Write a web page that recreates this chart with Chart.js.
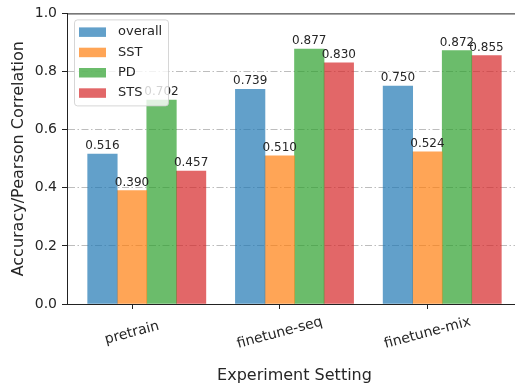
<!DOCTYPE html>
<html>
<head>
<meta charset="utf-8">
<script src="https://cdn.jsdelivr.net/npm/chart.js@4/dist/chart.umd.min.js"></script>
<style>
  html, body { margin: 0; padding: 0; overflow: hidden; background: #fff; }
  #wrap { position: relative; width: 515px; height: 387px; overflow: hidden; }
  canvas { position: absolute; left: 0; top: 0; }
</style>
</head>
<body>
<div id="wrap"><canvas id="c" width="530" height="387"></canvas></div>
<script>
// Experiment settings (x categories) and the scores per task
const settings = ['pretrain', 'finetune-seq', 'finetune-mix'];
const seriesNames = ['overall', 'SST', 'PD', 'STS'];
const overall = [0.516, 0.739, 0.750];
const sst = [0.390, 0.510, 0.524];
const pd = [0.702, 0.877, 0.872];
const sts = [0.457, 0.830, 0.855];
const yTicks = [0.0, 0.2, 0.4, 0.6, 0.8, 1.0];

const seriesValues = [overall, sst, pd, sts];
const seriesColors = [
  'rgba(31,119,180,0.7)',
  'rgba(255,127,14,0.7)',
  'rgba(44,160,44,0.7)',
  'rgba(214,39,40,0.7)'
];

const FONT = "'DejaVu Sans', sans-serif";
const TEXT = '#262626';
const BAR_W = 0.2;          // bar width in category units
const ROT = 15 * Math.PI / 180;

// bars sit at category + (series - 1) * width, like an offset grouped plot
const datasets = seriesNames.map((name, s) => ({
  label: name,
  data: seriesValues[s].map((v, i) => ({ x: i + (s - 1) * BAR_W, y: v })),
  backgroundColor: seriesColors[s],
  borderWidth: 0,
  grouped: false,
  barPercentage: 1,
  categoryPercentage: 1
}));

// x-range with 5% margins around the outermost bar edges
const xLo = (0 - 1) * BAR_W - BAR_W / 2;
const xHi = (settings.length - 1) + (seriesNames.length - 2) * BAR_W + BAR_W / 2;
const xPad = (xHi - xLo) * 0.05;

const decorations = {
  id: 'decorations',
  afterDatasetsDraw(chart) {
    const ctx = chart.ctx;
    const area = chart.chartArea;
    // value labels above every bar
    ctx.save();
    ctx.font = '12px ' + FONT;
    ctx.fillStyle = TEXT;
    ctx.textAlign = 'center';
    ctx.textBaseline = 'bottom';
    chart.data.datasets.forEach((ds, di) => {
      const meta = chart.getDatasetMeta(di);
      meta.data.forEach((el, i) => {
        ctx.fillText(ds.data[i].y.toFixed(3), el.x, el.y - 2);
      });
    });
    ctx.restore();

    // top and right spines
    ctx.save();
    ctx.strokeStyle = '#222';
    ctx.lineWidth = 1;
    ctx.beginPath();
    ctx.moveTo(area.left, area.top + 0.5);
    ctx.lineTo(area.right, area.top + 0.5);
    ctx.moveTo(area.right - 0.5, area.top);
    ctx.lineTo(area.right - 0.5, area.bottom);
    ctx.stroke();
    ctx.restore();

    // rotated category labels centred under their ticks
    const xs = chart.scales.x;
    ctx.save();
    ctx.font = '14px ' + FONT;
    ctx.fillStyle = TEXT;
    ctx.textAlign = 'center';
    ctx.textBaseline = 'middle';
    settings.forEach((name, i) => {
      const px = xs.getPixelForValue(i);
      ctx.save();
      ctx.translate(px, area.bottom + 29);
      ctx.rotate(-ROT);
      ctx.fillText(name, 0, 0);
      ctx.restore();
    });
    ctx.restore();
  },
  afterDraw(chart) {
    // legend box in the upper-left corner of the plot
    const ctx = chart.ctx;
    const area = chart.chartArea;
    const x0 = area.left + 7, y0 = area.top + 6, w = 94, h = 86;
    ctx.save();
    ctx.beginPath();
    if (ctx.roundRect) ctx.roundRect(x0 + 0.5, y0 + 0.5, w, h, 3);
    else ctx.rect(x0 + 0.5, y0 + 0.5, w, h);
    ctx.fillStyle = 'rgba(255,255,255,0.8)';
    ctx.fill();
    ctx.strokeStyle = 'rgba(204,204,204,0.8)';
    ctx.lineWidth = 1;
    ctx.stroke();
    ctx.font = '13px ' + FONT;
    ctx.textBaseline = 'middle';
    ctx.textAlign = 'left';
    seriesNames.forEach((name, s) => {
      const cy = y0 + 12.5 + s * 20.3;
      ctx.fillStyle = seriesColors[s];
      ctx.fillRect(x0 + 5, cy - 4.5, 27, 9.5);
      ctx.fillStyle = TEXT;
      ctx.fillText(name, x0 + 44, cy);
    });
    ctx.restore();
  }
};

new Chart(document.getElementById('c'), {
  type: 'bar',
  data: { datasets },
  options: {
    responsive: false,
    animation: false,
    layout: { padding: { top: 9, right: 8, left: 0, bottom: 0 } },
    plugins: { legend: { display: false }, tooltip: { enabled: false } },
    scales: {
      x: {
        type: 'linear',
        offset: false,
        min: xLo - xPad,
        max: xHi + xPad,
        afterBuildTicks: (scale) => { scale.ticks = settings.map((_, i) => ({ value: i })); },
        afterFit: (scale) => { scale.height = 83; },
        ticks: { display: false },
        grid: { display: true, offset: false, drawOnChartArea: false, drawTicks: true, tickLength: 5, tickColor: '#222', tickWidth: 1 },
        border: { display: true, color: '#222', width: 1 },
        title: {
          display: true,
          text: 'Experiment Setting',
          color: TEXT,
          font: { family: FONT, size: 16 },
          padding: { top: 0, bottom: 1.5 }
        }
      },
      y: {
        min: 0,
        max: 1,
        afterBuildTicks: (scale) => { scale.ticks = yTicks.map(v => ({ value: v })); },
        afterFit: (scale) => { scale.width = 67; },
        ticks: {
          callback: (v) => Number(v).toFixed(1),
          color: TEXT,
          font: { family: FONT, size: 14 },
          padding: 5
        },
        grid: {
          color: (c) => (c.tick && (c.tick.value === 0 || c.tick.value === 1)) ? 'rgba(0,0,0,0)' : '#bdbdbd',
          lineWidth: 1,
          drawTicks: true,
          tickLength: 5,
          tickColor: '#222',
          tickWidth: 1,
          tickBorderDash: []
        },
        border: { display: true, color: '#222', width: 1, dash: [7, 2.5, 1.5, 2.5] },
        title: {
          display: true,
          text: 'Accuracy/Pearson Correlation',
          color: TEXT,
          font: { family: FONT, size: 16 },
          padding: { top: 9, bottom: 0 }
        }
      }
    }
  },
  plugins: [decorations]
});
</script>
</body>
</html>
